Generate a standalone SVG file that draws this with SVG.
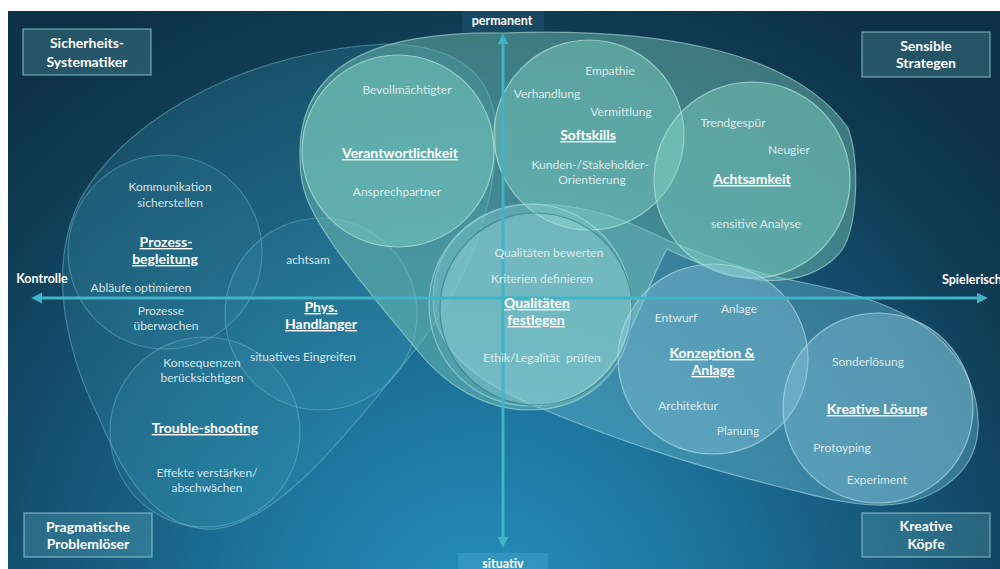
<svg xmlns="http://www.w3.org/2000/svg" width="1000" height="569" viewBox="0 0 1000 569">
  <defs>
    <radialGradient id="bg" gradientUnits="userSpaceOnUse" cx="480" cy="620" r="700">
      <stop offset="0" stop-color="#2690bf"/>
      <stop offset="0.3" stop-color="#1e77a0"/>
      <stop offset="0.6" stop-color="#165678"/>
      <stop offset="0.85" stop-color="#0f3c54"/>
      <stop offset="1" stop-color="#0d3147"/>
    </radialGradient>
    <marker id="arr" viewBox="0 0 10 10" refX="2" refY="5" markerWidth="11" markerHeight="11" markerUnits="userSpaceOnUse" orient="auto-start-reverse">
      <path d="M0,0 L10,5 L0,10 Z" fill="#41b4c8"/>
    </marker>
    <style>
      .blobA { fill: #3aa0b8; fill-opacity: 0.22; stroke: #7fc4d0; stroke-opacity: 0.45; stroke-width: 1.2; }
      .cA { fill: #4ab0c4; fill-opacity: 0.12; stroke: #8fd0dc; stroke-opacity: 0.35; stroke-width: 1.2; }
      .blobB { fill: #78c8b8; fill-opacity: 0.45; stroke: #b0e0d8; stroke-opacity: 0.6; stroke-width: 1.2; }
      .cB { fill: #86d8c8; fill-opacity: 0.42; stroke: #b5e6dc; stroke-opacity: 0.7; stroke-width: 1.2; }
      .blobC { fill: #6ab8cc; fill-opacity: 0.42; stroke: #a8d8e4; stroke-opacity: 0.6; stroke-width: 1.2; }
      .cC { fill: #8cc8dc; fill-opacity: 0.38; stroke: #b8e0ea; stroke-opacity: 0.65; stroke-width: 1.2; }
      .cQo { fill: #a0dce0; fill-opacity: 0.12; stroke: #b8e6e6; stroke-opacity: 0.55; stroke-width: 1.2; }
      .cQ { fill: #a0dce0; fill-opacity: 0.3; stroke: #2f6f78; stroke-opacity: 0.6; stroke-width: 1.2; }
      .axis { stroke: #41b4c8; stroke-width: 3; fill: none; }
      text { font-family: Lato, "Open Sans", "Liberation Sans", sans-serif; text-anchor: middle; }
      .t { font-size: 12px; fill: #e8f3f4; fill-opacity: 0.92; }
      .h { font-size: 14px; font-weight: bold; fill: #ffffff; text-decoration: underline; }
      .ax { font-size: 12.5px; font-weight: bold; fill: #ffffff; }
      .corner { font-size: 14px; font-weight: bold; fill: #ffffff; }
      .box { fill: #6ebec8; fill-opacity: 0.25; stroke: #a0d7dc; stroke-opacity: 0.55; stroke-width: 1.5; }
    </style>
  </defs>

  <!-- page and background -->
  <rect x="0" y="0" width="1000" height="569" fill="#ffffff"/>
  <rect x="8" y="11" width="992" height="558" fill="url(#bg)"/>
  <rect x="462" y="11" width="82" height="22" fill="#5aaecc" fill-opacity="0.12"/>
  <rect x="458" y="553" width="90" height="16" fill="#5ab4dc" fill-opacity="0.3"/>

  <!-- cluster outlines -->
  <g id="cluster-sicherheit">
    <path class="blobA" d="M385,44 C260,50 130,110 80,200 C50,260 60,340 100,420 C125,480 160,532 215,529 C280,522 350,430 415,350 C470,280 500,200 495,120 C490,70 450,44 385,44 Z"/>
  </g>

  <g id="node-prozess">
    <circle class="cA" cx="165" cy="252" r="97"/>
    <text class="t" x="170" y="191">Kommunikation</text>
    <text class="t" x="170" y="207">sicherstellen</text>
    <text class="h" x="166" y="247">Prozess-</text>
    <text class="h" x="165" y="264">begleitung</text>
    <text class="t" x="141" y="292">Abläufe optimieren</text>
    <text class="t" x="161" y="315">Prozesse</text>
    <text class="t" x="166" y="330">überwachen</text>
  </g>

  <g id="node-phys">
    <circle class="cA" cx="321" cy="314" r="96"/>
    <text class="t" x="308" y="264">achtsam</text>
    <text class="h" x="321" y="312">Phys.</text>
    <text class="h" x="321" y="329">Handlanger</text>
    <text class="t" x="303" y="361">situatives Eingreifen</text>
  </g>

  <g id="node-trouble">
    <circle class="cA" cx="205" cy="432" r="95"/>
    <text class="t" x="202" y="367">Konsequenzen</text>
    <text class="t" x="202" y="382">berücksichtigen</text>
    <text class="h" x="205" y="433">Trouble-shooting</text>
    <text class="t" x="207" y="477">Effekte verstärken/</text>
    <text class="t" x="207" y="492">abschwächen</text>
  </g>

  <g id="cluster-kreativ">
    <path class="blobC" d="M433,300 C433,245 475,205 535,204 C590,204 630,222 667,240 C710,258 750,272 800,282 C850,292 900,305 935,335 C965,360 980,395 978,430 C975,475 930,507 875,505 C845,504 820,497 780,487 C720,472 640,450 540,408 C490,388 433,355 433,300 Z"/>
  </g>

  <g id="cluster-sensibel">
    <path class="blobB" d="M300,160 C296,50 400,32 503,33 C640,28 790,45 848,128 C860,160 858,225 842,250 C825,272 795,283 760,280 C725,276 695,262 667,249 C655,270 645,300 630,330 C620,380 580,410 530,410 C485,410 445,385 417,350 C380,305 350,270 330,240 C310,210 300,190 300,160 Z"/>
  </g>

  <g id="node-verantwortlichkeit">
    <circle class="cB" cx="398" cy="151" r="96"/>
    <text class="t" x="407" y="94">Bevollmächtigter</text>
    <text class="h" x="400" y="158">Verantwortlichkeit</text>
    <text class="t" x="397" y="196">Ansprechpartner</text>
  </g>

  <g id="node-softskills">
    <circle class="cB" cx="589" cy="135" r="95"/>
    <text class="t" x="610" y="75">Empathie</text>
    <text class="t" x="547" y="98">Verhandlung</text>
    <text class="t" x="621" y="116">Vermittlung</text>
    <text class="h" x="588" y="140">Softskills</text>
    <text class="t" x="590" y="169">Kunden-/Stakeholder-</text>
    <text class="t" x="592" y="184">Orientierung</text>
  </g>

  <g id="node-achtsamkeit">
    <circle class="cB" cx="752" cy="180" r="98"/>
    <text class="t" x="733" y="127">Trendgespür</text>
    <text class="t" x="789" y="154">Neugier</text>
    <text class="h" x="752" y="184">Achtsamkeit</text>
    <text class="t" x="756" y="228">sensitive Analyse</text>
  </g>

  <g id="node-qualitaeten">
    <circle class="cQo" cx="530" cy="305" r="101"/>
    <circle class="cQ" cx="536" cy="309" r="96"/>
  </g>

  <g id="node-konzeption">
    <circle class="cC" cx="713" cy="359" r="95"/>
  </g>

  <g id="node-kreativ">
    <circle class="cC" cx="878" cy="408" r="95"/>
  </g>

  <!-- axes -->
  <g id="connectors">
    <line class="axis" x1="503" y1="42" x2="503" y2="539" marker-start="url(#arr)" marker-end="url(#arr)"/>
    <line class="axis" x1="40" y1="298" x2="979" y2="298" marker-start="url(#arr)" marker-end="url(#arr)"/>
  </g>

  <g id="labels-qualitaeten">
    <text class="t" x="549" y="257">Qualitäten bewerten</text>
    <text class="t" x="542" y="283">Kriterien definieren</text>
    <text class="h" x="537" y="308">Qualitäten</text>
    <text class="h" x="536" y="325">festlegen</text>
    <text class="t" x="542" y="362" xml:space="preserve">Ethik/Legalität  prüfen</text>
  </g>

  <g id="labels-konzeption">
    <text class="t" x="676" y="322">Entwurf</text>
    <text class="t" x="739" y="313">Anlage</text>
    <text class="h" x="712" y="358">Konzeption &amp;</text>
    <text class="h" x="713" y="375">Anlage</text>
    <text class="t" x="688" y="410">Architektur</text>
    <text class="t" x="738" y="435">Planung</text>
  </g>

  <g id="labels-kreativ">
    <text class="t" x="868" y="366">Sonderlösung</text>
    <text class="h" x="877" y="414">Kreative Lösung</text>
    <text class="t" x="842" y="452">Protoyping</text>
    <text class="t" x="877" y="484">Experiment</text>
  </g>

  <!-- axis captions -->
  <g id="axis-labels">
    <text class="ax" x="502" y="25">permanent</text>
    <text class="ax" x="503" y="568">situativ</text>
    <text class="ax" x="42" y="283">Kontrolle</text>
    <text class="ax" x="942" y="284" style="text-anchor:start">Spielerisch</text>
  </g>

  <!-- quadrant titles -->
  <g id="q-sicherheit">
    <rect class="box" x="23" y="29" width="128" height="46"/>
    <text class="corner" x="87" y="48">Sicherheits-</text>
    <text class="corner" x="87" y="67">Systematiker</text>
  </g>
  <g id="q-sensibel">
    <rect class="box" x="862" y="32" width="128" height="45"/>
    <text class="corner" x="926" y="51">Sensible</text>
    <text class="corner" x="926" y="68">Strategen</text>
  </g>
  <g id="q-pragmatisch">
    <rect class="box" x="24" y="513" width="128" height="44"/>
    <text class="corner" x="88" y="532">Pragmatische</text>
    <text class="corner" x="88" y="549">Problemlöser</text>
  </g>
  <g id="q-kreativ">
    <rect class="box" x="862" y="513" width="128" height="44"/>
    <text class="corner" x="926" y="531">Kreative</text>
    <text class="corner" x="926" y="549">Köpfe</text>
  </g>
</svg>
